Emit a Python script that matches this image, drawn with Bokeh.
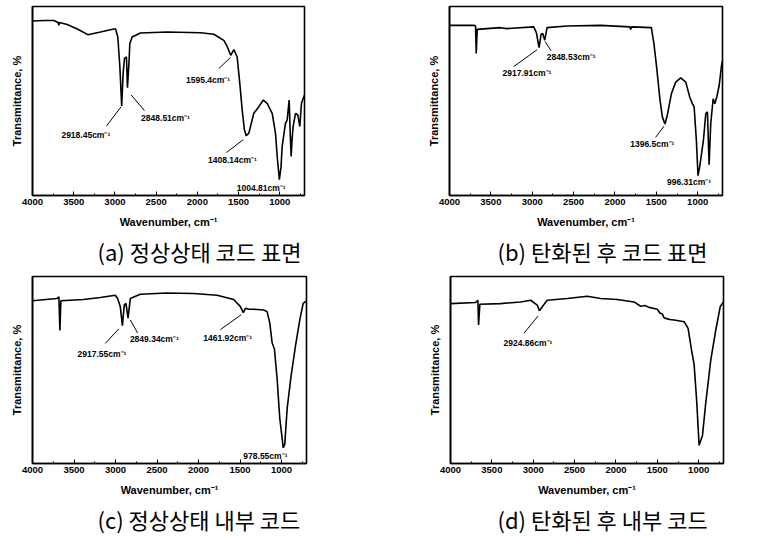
from bokeh.plotting import figure
from bokeh.models import Range1d, FixedTicker, Title
from bokeh.layouts import column, row
from bokeh.core.properties import value
from bokeh.embed import file_html
from bokeh.resources import INLINE

X_TICKS = [4000, 3500, 3000, 2500, 2000, 1500, 1000]
X_MINOR = [3750, 3250, 2750, 2250, 1750, 1250, 750]
X_LABEL = "Wavenumber, cm⁻¹"
Y_LABEL = "Transmittance, %"

# (a) 정상상태 코드 표면
a_wn = [4000, 3850, 3741, 3690, 3681, 3672, 3579, 3450, 3329, 3175, 3054, 2993, 2965, 2940,
        2918, 2900, 2884, 2860, 2848, 2830, 2819, 2791, 2690, 2366, 1962, 1800, 1679, 1640,
        1595, 1557, 1517, 1485, 1456, 1430, 1408, 1375, 1315, 1254, 1200, 1153, 1092, 1052,
        1030, 1005, 985, 971, 931, 910, 886, 875, 862, 850, 838, 809, 781, 757, 737, 708, 700]
a_t = [92.3, 92.6, 92.6, 91.5, 90.0, 91.5, 90.5, 88.0, 85.1, 86.5, 87.7, 88.2, 83.9, 68.0,
       47.4, 65.0, 72.5, 73.3, 57.0, 70.0, 80.4, 83.9, 86.0, 86.5, 86.1, 85.3, 82.1, 79.0,
       74.2, 77.2, 73.3, 59.3, 45.3, 35.0, 31.6, 33.0, 43.5, 47.0, 50.5, 48.8, 43.5, 33.0,
       20.0, 8.4, 15.0, 26.0, 38.2, 40.0, 50.5, 35.0, 20.7, 30.0, 36.5, 43.5, 42.6, 36.5, 48.8, 52.3, 53.0]
a_labels = ["2918.45cm⁻¹", "2848.51cm⁻¹", "1595.4cm⁻¹", "1408.14cm⁻¹", "1004.81cm⁻¹"]
a_lab_x = [3353, 2386, 1869, 1574, 1226]
a_lab_y = [32.1, 40.9, 61.1, 18.9, 4.0]
a_lead_x0 = [3102, 2641, 1739, 1646]
a_lead_y0 = [36.8, 44.9, 67.2, 22.8]
a_lead_x1 = [2924, 2803, 1598, 1444]
a_lead_y1 = [47.0, 53.2, 73.0, 29.5]

# (b) 탄화된 후 코드 표면
b_wn = [4000, 3701, 3685, 3677, 3665, 3386, 3305, 2982, 2950, 2917, 2893, 2873, 2848, 2821,
        2578, 2174, 1819, 1811, 1799, 1560, 1528, 1496, 1455, 1427, 1396, 1367, 1318, 1266,
        1205, 1144, 1096, 1064, 1043, 1016, 996, 975, 930, 902, 882, 862, 842, 813, 793, 769,
        740, 712, 700]
b_t = [90.0, 90.0, 89.7, 75.2, 87.9, 88.8, 88.3, 89.2, 86.2, 78.3, 85.3, 85.7, 82.2, 88.8,
       89.7, 90.0, 89.2, 87.8, 89.2, 88.8, 80.1, 67.8, 50.3, 41.6, 37.8, 42.5, 53.8, 60.0,
       62.2, 60.0, 52.1, 48.6, 46.9, 29.4, 10.5, 15.4, 29.4, 43.4, 44.2, 16.3, 38.1, 51.2, 48.6, 52.1,
       58.2, 68.7, 71.3]
b_labels = ["2917.91cm⁻¹", "2848.53cm⁻¹", "1396.5cm⁻¹", "996.31cm⁻¹"]
b_lab_x = [3063, 2530, 1548, 1104]
b_lab_y = [64.7, 73.4, 27.3, 7.0]
b_lead_x0 = [3224, 2845, 1508]
b_lead_y0 = [68.2, 81.5, 30.8]
b_lead_x1 = [2942, 2772, 1407]
b_lead_y1 = [77.1, 76.6, 36.7]

# (c) 정상상태 내부 코드
c_wn = [4000, 3707, 3682, 3670, 3658, 3385, 3184, 3003, 2975, 2943, 2917, 2895, 2875, 2849,
        2822, 2702, 2380, 2059, 1777, 1577, 1496, 1461, 1436, 1396, 1335, 1215, 1175, 1142,
        1114, 1086, 1054, 1022, 980, 962, 933, 885, 833, 781, 740, 700]
c_t = [87.0, 88.2, 89.1, 71.2, 87.0, 87.7, 88.8, 90.0, 88.2, 83.9, 73.7, 84.7, 85.6, 77.7,
       88.2, 90.5, 91.2, 90.9, 90.0, 87.7, 83.9, 80.7, 83.0, 82.5, 82.5, 82.1, 81.2, 75.1,
       64.6, 61.1, 45.3, 24.2, 8.4, 10.2, 29.5, 47.0, 62.8, 76.8, 85.6, 87.0]
c_labels = ["2917.55cm⁻¹", "2849.34cm⁻¹", "1461.92cm⁻¹", "978.55cm⁻¹"]
c_lab_x = [3164, 2533, 1649, 1195]
c_lab_y = [58.4, 66.7, 67.2, 4.0]
c_lead_x0 = [3124, 2734, 1737]
c_lead_y0 = [64.2, 69.8, 71.6]
c_lead_x1 = [2963, 2822, 1488]
c_lead_y1 = [71.9, 76.8, 79.5]

# (d) 탄화된 후 내부 코드
d_wn = [4000, 3697, 3669, 3661, 3645, 3395, 3153, 3032, 2951, 2925, 2891, 2862, 2830, 2588,
        2346, 2185, 1983, 1781, 1750, 1701, 1650, 1600, 1539, 1500, 1470, 1440, 1420, 1398,
        1350, 1297, 1176, 1128, 1087, 1055, 1023, 995, 954, 914, 853, 793, 740, 700]
d_t = [85.5, 86.1, 87.3, 74.1, 85.2, 85.5, 86.4, 87.3, 84.7, 81.7, 83.8, 85.5, 87.3, 88.2,
       89.4, 88.2, 87.7, 86.4, 85.5, 84.1, 84.5, 83.5, 82.9, 82.5, 80.5, 80.0, 78.0, 77.6,
       77.0, 76.7, 75.8, 72.3, 60.8, 52.9, 32.6, 9.7, 15.0, 32.6, 55.6, 71.4, 83.8, 86.4]
d_labels = ["2924.86cm⁻¹"]
d_lab_x = [3064]
d_lab_y = [64.7]
d_lead_x0 = [3112]
d_lead_y0 = [69.7]
d_lead_x1 = [2943]
d_lead_y1 = [78.8]

captions = ["(a) 정상상태 코드 표면", "(b) 탄화된 후 코드 표면",
            "(c) 정상상태 내부 코드", "(d) 탄화된 후 내부 코드"]

LAT = "Liberation Sans"


def panel(width, height, bl, br, bt, bb, wn, t, labels, lx, ly, x0, y0, x1, y1, caption, cap_off):
    p = figure(width=width, height=height, x_range=Range1d(4000, 700), y_range=Range1d(0, 100),
               toolbar_location=None, output_backend="svg", title=None,
               min_border_left=bl, min_border_right=br, min_border_top=bt, min_border_bottom=bb)
    p.grid.visible = False
    p.outline_line_color = "black"
    p.outline_line_width = 1.6
    p.outline_line_alpha = 1.0
    p.background_fill_color = "white"
    p.border_fill_color = "white"

    xa = p.xaxis[0]
    xa.ticker = FixedTicker(ticks=X_TICKS, minor_ticks=X_MINOR)
    xa.major_tick_in = 4
    xa.major_tick_out = 0
    xa.minor_tick_in = 2
    xa.minor_tick_out = 0
    xa.axis_line_width = 1.6
    xa.major_label_standoff = 3
    xa.major_label_text_font = LAT
    xa.major_label_text_font_style = "bold"
    xa.major_label_text_font_size = "9.5px"
    xa.major_label_text_color = "black"
    xa.axis_label = X_LABEL
    xa.axis_label_text_font = LAT
    xa.axis_label_text_font_style = "bold"
    xa.axis_label_text_font_size = "11px"
    xa.axis_label_text_color = "black"
    xa.axis_label_standoff = 8

    ya = p.yaxis[0]
    ya.ticker = FixedTicker(ticks=[])
    ya.major_tick_in = 0
    ya.major_tick_out = 0
    ya.minor_tick_in = 0
    ya.minor_tick_out = 0
    ya.axis_line_width = 1.6
    ya.major_label_standoff = 0
    ya.axis_label = Y_LABEL
    ya.axis_label_text_font = LAT
    ya.axis_label_text_font_style = "bold"
    ya.axis_label_text_font_size = "11px"
    ya.axis_label_text_color = "black"
    ya.axis_label_standoff = 10

    p.line(wn, t, line_color="black", line_width=1.6)
    p.segment(x0=x0, y0=y0, x1=x1, y1=y1, line_color="black", line_width=1)
    p.text(x=lx, y=ly, text=labels, text_font=value(LAT), text_font_size="8.5px",
           text_font_style="bold", text_align="center", text_baseline="middle", text_color="black")

    cap = Title(text=caption, align="left", offset=cap_off, text_font="Noto Sans CJK KR",
                text_font_size="22px", text_font_style="normal", text_color="black", standoff=4)
    p.add_layout(cap, "below")
    return p


pa = panel(400, 268, 32, 96, 6, 72, a_wn, a_t, a_labels, a_lab_x, a_lab_y,
           a_lead_x0, a_lead_y0, a_lead_x1, a_lead_y1, captions[0], 65)
pb = panel(384, 268, 49, 62, 5, 72, b_wn, b_t, b_labels, b_lab_x, b_lab_y,
           b_lead_x0, b_lead_y0, b_lead_x1, b_lead_y1, captions[1], 48)
pc = panel(400, 268, 32, 94, 8, 70, c_wn, c_t, c_labels, c_lab_x, c_lab_y,
           c_lead_x0, c_lead_y0, c_lead_x1, c_lead_y1, captions[2], 65)
pd = panel(384, 268, 50, 61, 8, 71, d_wn, d_t, d_labels, d_lab_x, d_lab_y,
           d_lead_x0, d_lead_y0, d_lead_x1, d_lead_y1, captions[3], 47)

layout = column(row(pa, pb), row(pc, pd))
open("out.html", "w").write(file_html(layout, INLINE))
